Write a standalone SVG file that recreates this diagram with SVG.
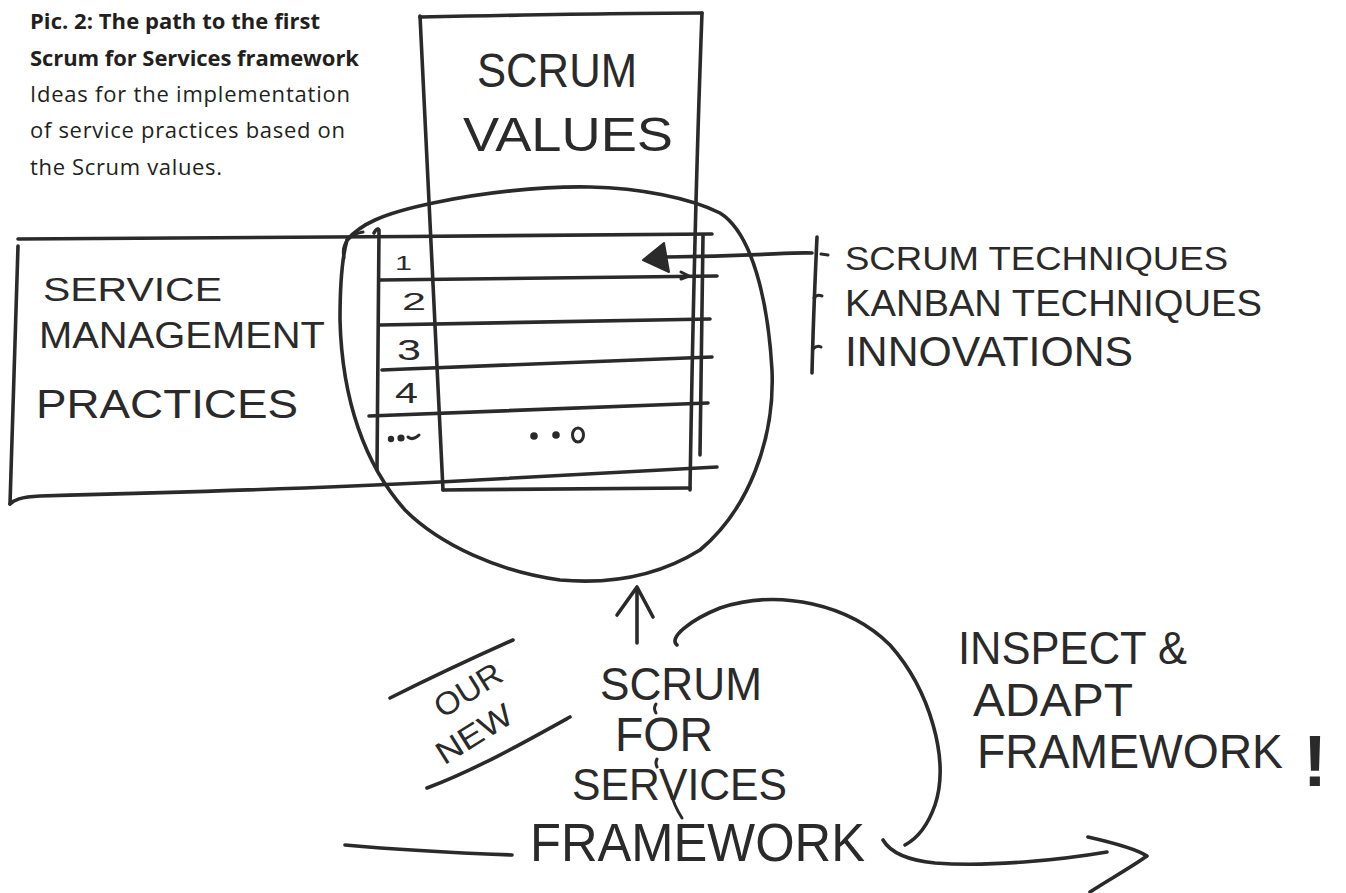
<svg xmlns="http://www.w3.org/2000/svg" width="1346" height="893" viewBox="0 0 1346 893">
  <style>
    .ink { fill: none; stroke: #2a2a2a; stroke-width: 3.6; stroke-linecap: round; stroke-linejoin: round; }
    .thin { fill: none; stroke: #2a2a2a; stroke-width: 3; stroke-linecap: round; stroke-linejoin: round; }
    .hand { font-family: "Liberation Sans", "DejaVu Sans", sans-serif; fill: #2a2a2a; }
    .cap { font-family: "Open Sans", "Noto Sans", sans-serif; font-size: 22px; fill: #231f20; }
    .cap-b { font-weight: 700; }
    .dot { fill: #2a2a2a; }
  </style>

  <rect width="1346" height="893" fill="#ffffff"/>

  <!-- caption -->
  <g id="caption">
    <text class="cap cap-b" x="30" y="29" textLength="290">Pic. 2: The path to the first</text>
    <text class="cap cap-b" x="30" y="66" textLength="329">Scrum for Services framework</text>
    <text class="cap" x="30" y="102" textLength="320">Ideas for the implementation</text>
    <text class="cap" x="30" y="138" textLength="315">of service practices based on</text>
    <text class="cap" x="30" y="175" textLength="192">the Scrum values.</text>
  </g>

  <!-- tall column: scrum values -->
  <g id="scrum-values">
    <path class="ink" d="M420 16 C425 120 433 300 443 490"/>
    <path class="ink" d="M420 17 C520 15 620 13 702 13"/>
    <path class="ink" d="M702 13 C698 120 693 300 690 490"/>
    <path class="ink" d="M443 490 C530 489 620 489 690 488"/>
    <text class="hand" x="477" y="87" font-size="48" textLength="160" lengthAdjust="spacingAndGlyphs">SCRUM</text>
    <text class="hand" x="463" y="151" font-size="48" textLength="210" lengthAdjust="spacingAndGlyphs">VALUES</text>
  </g>

  <!-- wide box: service management practices -->
  <g id="practices">
    <path class="ink" d="M18 239 C200 238 500 236 712 234"/>
    <path class="ink" d="M18 246 C16 330 12 420 10 504"/>
    <path class="ink" d="M10 504 C14 500 20 497 40 496 C200 492 340 487 440 482 C560 476 650 470 717 467"/>
    <text class="hand" x="43" y="301" font-size="33" textLength="179" lengthAdjust="spacingAndGlyphs">SERVICE</text>
    <text class="hand" x="39" y="348" font-size="37" textLength="286" lengthAdjust="spacingAndGlyphs">MANAGEMENT</text>
    <text class="hand" x="36" y="418" font-size="40" textLength="262" lengthAdjust="spacingAndGlyphs">PRACTICES</text>
  </g>

  <!-- numbered practice rows -->
  <g id="practice-table">
    <path class="ink" d="M374 233 C376 229 378 228 379 230 C378 320 377 400 377 470"/>
    <path class="ink" d="M703 236 C702 320 701 400 700 455"/>
    <path class="ink" d="M380 280 C500 278 620 277 717 276"/>
    <path class="thin" d="M681 272 L689 276 L681 279"/>
    <path class="ink" d="M380 325 C500 322 620 320 710 319"/>
    <path class="ink" d="M382 370 C500 365 620 360 712 357"/>
    <path class="ink" d="M369 416 C500 410 620 406 708 403"/>
    <text class="hand" x="395" y="270" font-size="20" textLength="17" lengthAdjust="spacingAndGlyphs">1</text>
    <text class="hand" x="402" y="310" font-size="24" textLength="24" lengthAdjust="spacingAndGlyphs">2</text>
    <text class="hand" x="397" y="360" font-size="30" textLength="24" lengthAdjust="spacingAndGlyphs">3</text>
    <text class="hand" x="395" y="403" font-size="29" textLength="23" lengthAdjust="spacingAndGlyphs">4</text>
    <circle class="dot" cx="391" cy="439" r="3.2"/>
    <circle class="dot" cx="401" cy="438" r="3.6"/>
    <path class="thin" d="M408 437 Q413 441 419 435"/>
    <circle class="dot" cx="534" cy="436" r="3.8"/>
    <circle class="dot" cx="556" cy="435" r="3.8"/>
    <ellipse class="thin" cx="578" cy="435" rx="5.5" ry="7"/>
  </g>

  <!-- loop round the overlap -->
  <g id="focus-loop">
    <path class="ink" d="M347 240 C360 225 380 214 433 203 C480 193 540 186 590 187 C640 188 690 198 720 213 C752 233 768 300 772 370 C775 440 748 510 700 550 C655 578 605 584 560 580 C500 572 440 545 405 510 C365 465 342 400 340 320 C340 285 342 258 347 240"/>
    <path class="thin" d="M344 258 C341 244 349 234 363 232"/>
  </g>

  <!-- technique sources -->
  <g id="techniques">
    <path class="ink" d="M817 237 C815 280 813 330 812 373"/>
    <path class="thin" d="M821 254 L828 255"/>
    <path class="thin" d="M814 298 Q817 294 822 296"/>
    <path class="thin" d="M813 349 Q817 345 821 347"/>
    <text class="hand" x="845" y="270" font-size="34" textLength="383" lengthAdjust="spacingAndGlyphs">SCRUM TECHNIQUES</text>
    <text class="hand" x="845" y="316" font-size="37" textLength="417" lengthAdjust="spacingAndGlyphs">KANBAN TECHNIQUES</text>
    <text class="hand" x="845" y="366" font-size="42" textLength="288" lengthAdjust="spacingAndGlyphs">INNOVATIONS</text>
  </g>

  <!-- new framework label -->
  <g id="sfs-framework">
    <text class="hand" x="600" y="700" font-size="46" textLength="162" lengthAdjust="spacingAndGlyphs">SCRUM</text>
    <text class="hand" x="615" y="751" font-size="48" textLength="98" lengthAdjust="spacingAndGlyphs">FOR</text>
    <text class="hand" x="572" y="800" font-size="44" textLength="215" lengthAdjust="spacingAndGlyphs">SERVICES</text>
    <text class="hand" x="530" y="861" font-size="53" textLength="335" lengthAdjust="spacingAndGlyphs">FRAMEWORK</text>
    <path class="thin" d="M656 704 Q653 708 656 713"/>
    <path class="thin" d="M657 759 Q655 763 657 767"/>
    <path class="thin" d="M670 790 Q674 806 682 818"/>
    <path class="ink" d="M345 845 C400 850 460 853 512 855"/>
  </g>

  <!-- "our new" tag -->
  <g id="our-new">
    <path class="ink" d="M390 698 C430 678 475 657 513 640"/>
    <path class="ink" d="M427 788 C475 770 525 742 570 717"/>
    <text class="hand" x="468" y="701" font-size="32" text-anchor="middle" textLength="74" lengthAdjust="spacingAndGlyphs" transform="rotate(-32 468 690)">OUR</text>
    <text class="hand" x="474" y="745" font-size="32" text-anchor="middle" textLength="84" lengthAdjust="spacingAndGlyphs" transform="rotate(-32 474 734)">NEW</text>
  </g>

  <!-- inspect and adapt note -->
  <g id="inspect-adapt">
    <text class="hand" x="958" y="664" font-size="46" textLength="229" lengthAdjust="spacingAndGlyphs">INSPECT &amp;</text>
    <text class="hand" x="973" y="716" font-size="46" textLength="160" lengthAdjust="spacingAndGlyphs">ADAPT</text>
    <text class="hand" x="977" y="768" font-size="48" textLength="306" lengthAdjust="spacingAndGlyphs">FRAMEWORK</text>
    <text class="hand" x="1315" y="786" font-size="72" font-weight="700" text-anchor="middle">!</text>
  </g>

  <!-- connectors -->
  <g id="connectors">
    <!-- techniques feed the first practice row -->
    <path class="ink" d="M812 253 C790 252 760 256 666 257"/>
    <polygon points="643,260 664,243 669,272" fill="#2a2a2a" stroke="#2a2a2a" stroke-width="2" stroke-linejoin="round"/>
    <!-- framework rises into the loop -->
    <path class="ink" d="M637 643 L637 589"/>
    <path class="ink" d="M617 615 L637 587 L653 617"/>
    <!-- inspect and adapt cycle -->
    <path class="ink" d="M677 645 C668 638 690 620 720 608 C780 588 850 605 890 645 C930 690 950 760 935 805 C928 825 918 838 905 845"/>
    <path class="ink" d="M883 840 C890 852 905 860 935 863 C990 867 1060 860 1107 852"/>
    <path class="ink" d="M1088 837 C1110 842 1135 848 1147 856 C1130 868 1105 882 1090 892"/>
  </g>
</svg>
